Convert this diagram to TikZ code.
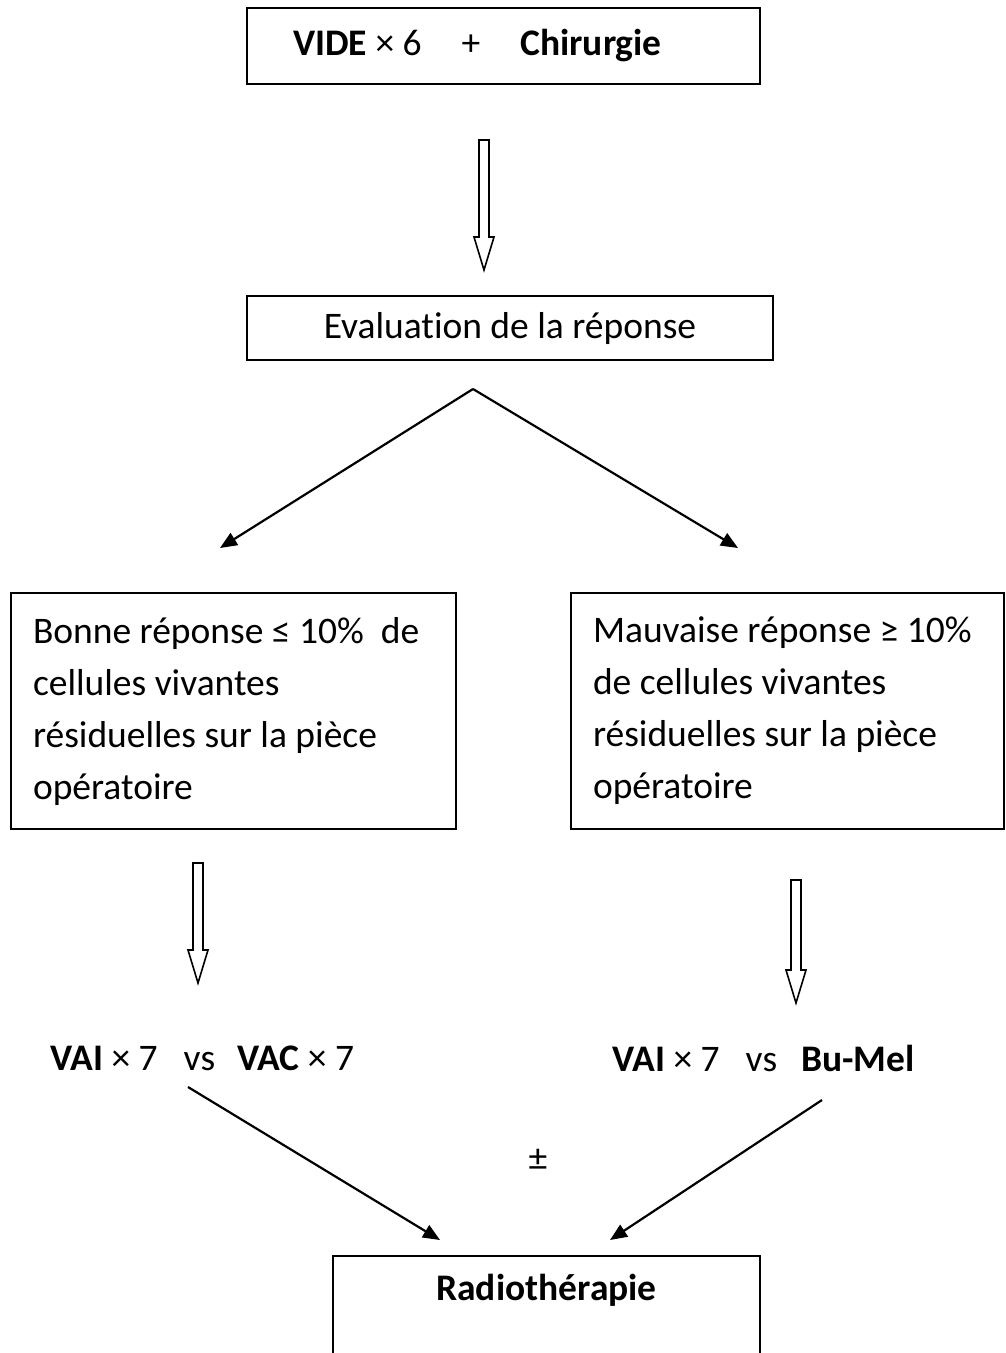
\documentclass[tikz,border=0pt]{standalone}
\usepackage{fontspec}
\setmainfont{Carlito}[Ligatures=NoCommon]
\usetikzlibrary{arrows.meta,positioning,calc}

\tikzset{
  box/.style={draw, line width=1.8pt, inner sep=0pt},
  txt/.style={font=\fontsize{37.5}{52}\selectfont},
  link/.style={line width=2.2pt, -{Triangle[length=17pt,width=14pt]}},
  hollow/.style={draw, line width=1.6pt, fill=white, line join=miter},
}
% hollow block arrow pointing down: (shaft top) (tip)
\newcommand{\hollowdown}[2]{%
  \draw[hollow] ($(#1)+(-5,0)$) -- ($(#1)+(5,0)$) -- ($(#2)+(5,-33)$)
    -- ($(#2)+(10,-33)$) -- (#2) -- ($(#2)+(-10,-33)$) -- ($(#2)+(-5,-33)$) -- cycle;}

\begin{document}
\begin{tikzpicture}[x=1pt, y=-1pt]
  \useasboundingbox (0,0) rectangle (1006,1353);

  % first line
  \node[box, txt, minimum width=513, minimum height=76, text width=421, inner xsep=46, align=flush left] (vide) at (503.5,46)
    {\textbf{VIDE} × 6\hspace{40pt}+\hspace{40pt}\textbf{Chirurgie}};
  \coordinate (h1s) at (484,140);
  \coordinate (h1e) at (484,270);
  \hollowdown{h1s}{h1e}

  \node[box, txt, minimum width=526, minimum height=64] (eval) at (510,328) {Evaluation de la réponse};

  % split
  \coordinate (apex) at (473,389);
  \coordinate (tipl) at (220,548);
  \coordinate (tipr) at (738,548);
  \draw[link] (apex) -- (tipl);
  \draw[link] (apex) -- (tipr);

  \node[box, txt, minimum width=445, minimum height=236, text width=401, inner xsep=22, align=flush left] (bonne) at (233.5,711)
    {Bonne réponse ≤ 10\%\ \ de\\cellules vivantes\\résiduelles sur la pièce\\opératoire};
  \node[box, txt, minimum width=433, minimum height=236, text width=389, inner xsep=22, align=flush left] (mauv) at (787.5,711)
    {Mauvaise réponse ≥ 10\%\\de cellules vivantes\\résiduelles sur la pièce\\opératoire};

  \coordinate (h2s) at (198,863);
  \coordinate (h2e) at (198,983);
  \hollowdown{h2s}{h2e}
  \coordinate (h3s) at (796,880);
  \coordinate (h3e) at (796,1003);
  \hollowdown{h3s}{h3e}

  % protocols
  \node[txt, anchor=west, inner sep=0pt] (vaivac) at (50,1058)
    {\textbf{VAI} × 7\hspace{26pt}vs\hspace{22pt}\textbf{VAC} × 7};
  \node[txt, anchor=west, inner sep=0pt] (vaibu) at (612,1058)
    {\textbf{VAI} × 7\hspace{26pt}vs\hspace{24pt}\textbf{Bu-Mel}};

  \coordinate (l1) at (188,1087);
  \coordinate (l2) at (440,1240);
  \coordinate (r1) at (822,1100);
  \coordinate (r2) at (610,1240);
  \draw[link] (l1) -- (l2);
  \draw[link] (r1) -- (r2);
  \node[txt] (pm) at (538,1160) {±};

  % last box, cut by the page
  \node[box, anchor=north, minimum width=427, minimum height=160] (radio) at (546.5,1255) {};
  \node[txt] (radiot) at (546.5,1290) {\textbf{Radiothérapie}};
\end{tikzpicture}
\end{document}
